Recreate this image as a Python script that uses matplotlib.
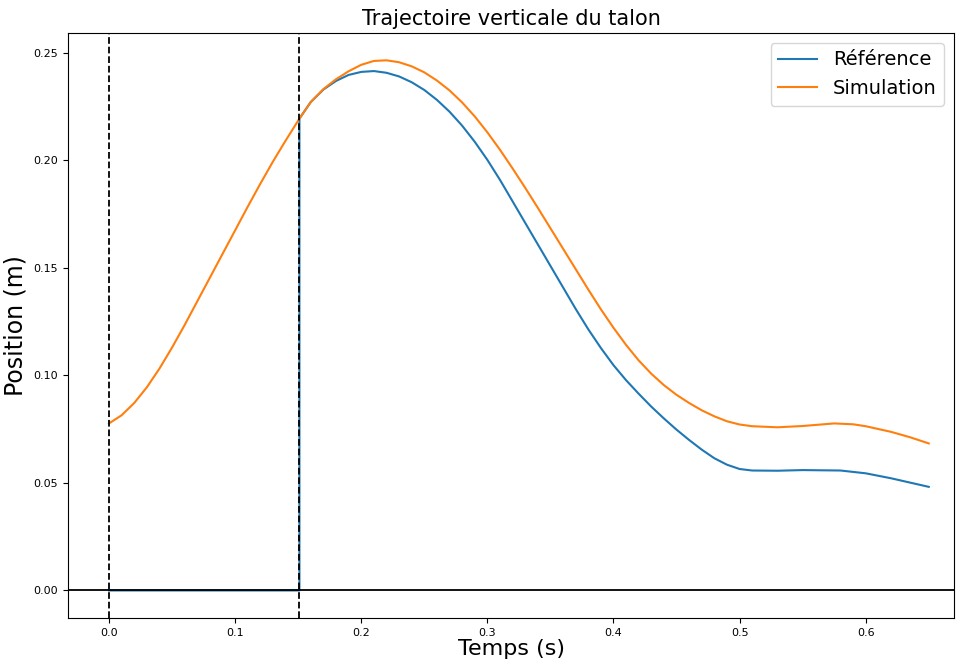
import numpy as np
import matplotlib.pyplot as plt

# temps (s) et position verticale du talon (m)
t_sim = [0.0, 0.01, 0.02, 0.03, 0.04, 0.05, 0.06, 0.07, 0.08, 0.09, 0.10,
         0.11, 0.12, 0.13, 0.14, 0.151, 0.16, 0.17, 0.18, 0.19, 0.20, 0.21,
         0.22, 0.23, 0.24, 0.25, 0.26, 0.27, 0.28, 0.29, 0.30, 0.31, 0.32,
         0.33, 0.34, 0.35, 0.36, 0.37, 0.38, 0.39, 0.40, 0.41, 0.42, 0.43,
         0.44, 0.45, 0.46, 0.47, 0.48, 0.49, 0.50, 0.51, 0.53, 0.55, 0.575,
         0.59, 0.60, 0.62, 0.635, 0.65]
y_sim = [0.0777, 0.0815, 0.0872, 0.0945, 0.1032, 0.1130, 0.1235, 0.1345,
         0.1455, 0.1565, 0.1675, 0.1785, 0.1892, 0.1995, 0.2092, 0.2195,
         0.2272, 0.2332, 0.2378, 0.2415, 0.2445, 0.2463, 0.2466, 0.2457,
         0.2438, 0.2410, 0.2372, 0.2326, 0.2270, 0.2205, 0.2131, 0.2050,
         0.1963, 0.1873, 0.1780, 0.1685, 0.1590, 0.1495, 0.1400, 0.1308,
         0.1222, 0.1142, 0.1070, 0.1008, 0.0955, 0.0910, 0.0872, 0.0838,
         0.0810, 0.0787, 0.0772, 0.0764, 0.0759, 0.0765, 0.0777, 0.0773,
         0.0764, 0.0738, 0.0713, 0.0684]

t_ref = [0.0, 0.151, 0.151, 0.16, 0.17, 0.18, 0.19, 0.20, 0.21, 0.22, 0.23,
         0.24, 0.25, 0.26, 0.27, 0.28, 0.29, 0.30, 0.31, 0.32, 0.33, 0.34,
         0.35, 0.36, 0.37, 0.38, 0.39, 0.40, 0.41, 0.42, 0.43, 0.44, 0.45,
         0.46, 0.47, 0.48, 0.49, 0.50, 0.51, 0.53, 0.55, 0.58, 0.60, 0.62,
         0.65]
y_ref = [0.0, 0.0, 0.2195, 0.2272, 0.2330, 0.2370, 0.2398, 0.2412, 0.2416,
         0.2408, 0.2391, 0.2364, 0.2328, 0.2282, 0.2227, 0.2162, 0.2087,
         0.2003, 0.1910, 0.1810, 0.1710, 0.1610, 0.1510, 0.1410, 0.1310,
         0.1215, 0.1128, 0.1048, 0.0978, 0.0915, 0.0855, 0.0800, 0.0748,
         0.0700, 0.0655, 0.0615, 0.0585, 0.0565, 0.0558, 0.0557, 0.0560,
         0.0558, 0.0545, 0.0522, 0.0482]

t_phases = [0.0, 0.151]

fig = plt.figure(figsize=(9.56, 6.61), dpi=100)
ax = fig.add_axes([68 / 956, 43 / 661, 886 / 956, 585 / 661])

ax.plot(t_ref, y_ref, color="#1f77b4", label="Référence")
ax.plot(t_sim, y_sim, color="#ff7f0e", label="Simulation")
ax.axhline(0, color="black", lw=1.3)
for tp in t_phases:
    ax.axvline(tp, color="black", ls="--", lw=1.3)

ax.set_xlim(-0.0325, 0.670)
ax.set_ylim(-0.0128, 0.2593)
ax.set_xticks([0.0, 0.1, 0.2, 0.3, 0.4, 0.5, 0.6])
ax.set_yticks([0.0, 0.05, 0.10, 0.15, 0.20, 0.25])
ax.set_yticklabels(["0.00", "0.05", "0.10", "0.15", "0.20", "0.25"])
ax.tick_params(labelsize=8)

ax.set_title("Trajectoire verticale du talon", fontsize=15)
ax.set_xlabel("Temps (s)", fontsize=16, labelpad=1)
ax.set_ylabel("Position (m)", fontsize=17)
ax.legend(loc="upper right", fontsize=14)

fig.savefig("out.png", dpi=100)
